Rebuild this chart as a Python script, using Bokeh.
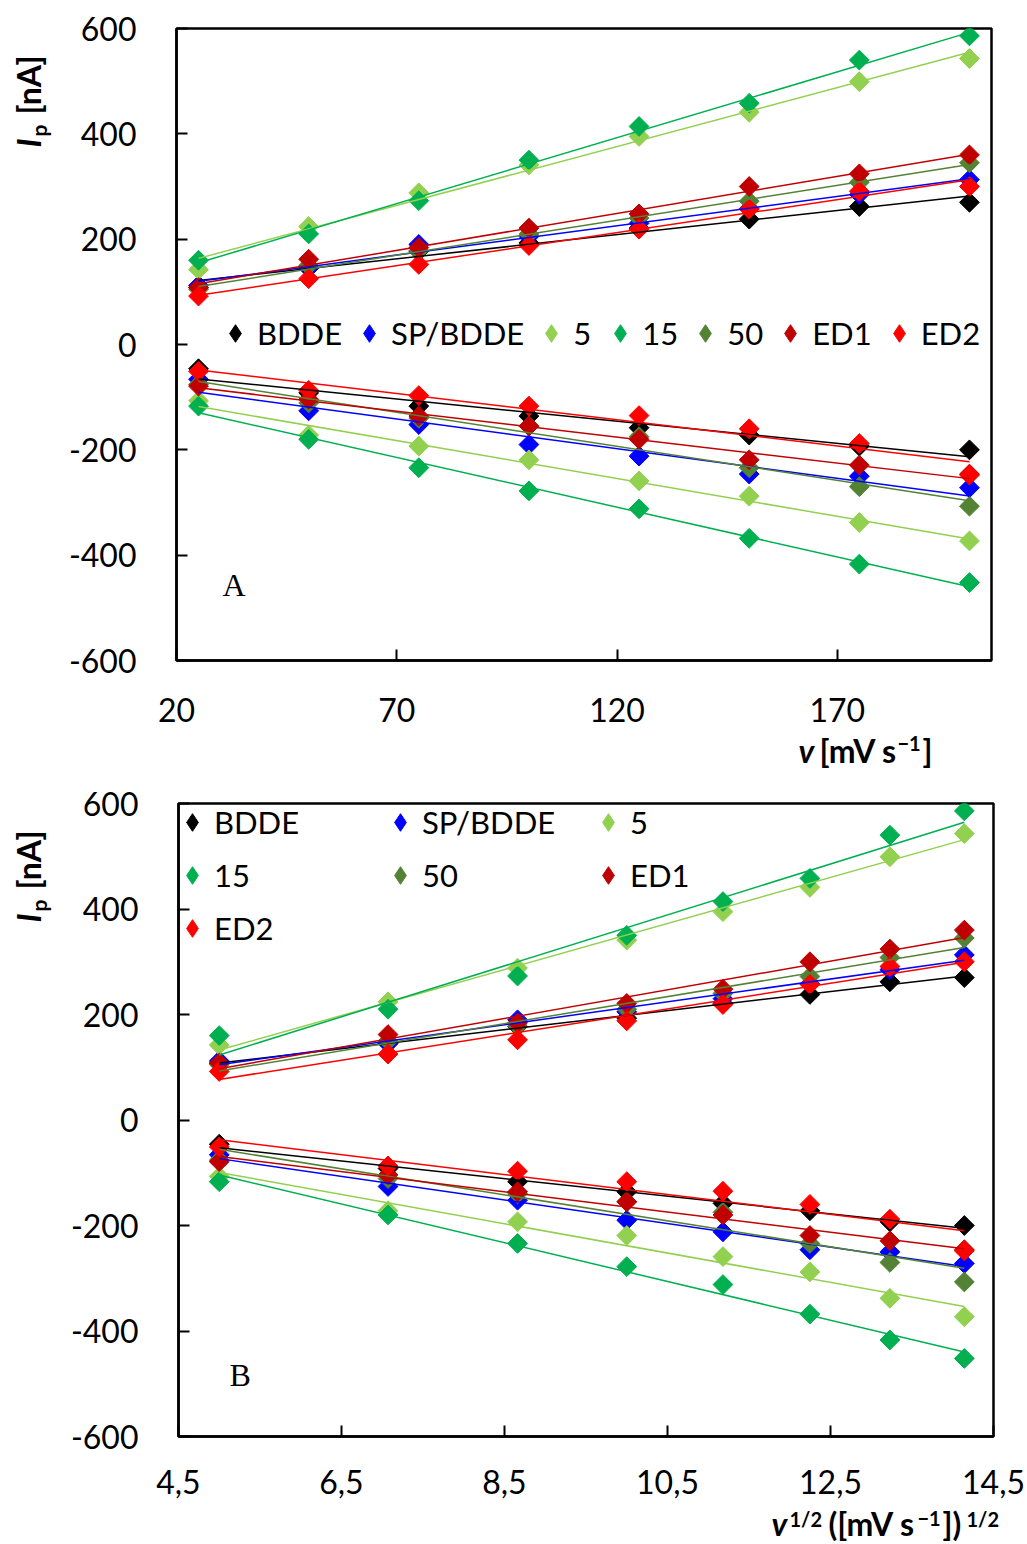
import numpy as np
from bokeh.plotting import figure
from bokeh.models import Label, Legend, LegendItem, FixedTicker, Plot
from bokeh.layouts import column, row
from bokeh.embed import file_html
from bokeh.resources import INLINE

# scan rates v [mV/s]
scan_rate = [25, 50, 75, 100, 125, 150, 175, 200]

series_names = ["BDDE", "SP/BDDE", "5", "15", "50", "ED1", "ED2"]
series_colors = ["#000000", "#0000FF", "#92D050", "#00B050", "#548235", "#C00000", "#FF0000"]

# anodic peak currents Ip [nA]
anodic_bdde = [108, 145, 177, 193, 221, 238, 262, 270]
anodic_sp_bdde = [112, 145, 190, 205, 230, 258, 285, 313]
anodic_5 = [142, 224, 288, 341, 395, 441, 499, 543]
anodic_15 = [160, 210, 273, 350, 414, 458, 540, 586]
anodic_50 = [105, 150, 178, 210, 240, 272, 308, 345]
anodic_ed1 = [108, 162, 184, 221, 248, 300, 324, 360]
anodic_ed2 = [92, 125, 152, 188, 219, 257, 291, 300]

# cathodic peak currents Ip [nA]
cathodic_bdde = [-46, -92, -117, -136, -158, -172, -193, -200]
cathodic_sp_bdde = [-66, -126, -152, -190, -212, -246, -250, -272]
cathodic_5 = [-107, -172, -193, -219, -259, -288, -338, -373]
cathodic_15 = [-117, -180, -234, -278, -312, -368, -417, -452]
cathodic_50 = [-76, -111, -140, -155, -175, -234, -270, -307]
cathodic_ed1 = [-79, -104, -136, -155, -180, -219, -229, -246]
cathodic_ed2 = [-51, -87, -97, -117, -135, -160, -188, -248]

anodic = [anodic_bdde, anodic_sp_bdde, anodic_5, anodic_15, anodic_50, anodic_ed1, anodic_ed2]
cathodic = [cathodic_bdde, cathodic_sp_bdde, cathodic_5, cathodic_15, cathodic_50, cathodic_ed1, cathodic_ed2]

y_ticks = [-600, -400, -200, 0, 200, 400, 600]
y_tick_text = ["-600", "-400", "-200", "0", "200", "400", "600"]

xa_ticks = [20, 70, 120, 170]
xa_tick_text = ["20", "70", "120", "170"]
xb_ticks = [4.5, 6.5, 8.5, 10.5, 12.5, 14.5]
xb_tick_text = ["4,5", "6,5", "8,5", "10,5", "12,5", "14,5"]

FONT = "Lato"
SERIF = "Liberation Serif"
W, H = 1027, 772          # size of one panel
STRIP_W = 60              # strip holding the y axis title
HAS_FRAME_ALIGN = "frame_align" in Plot.properties()


def no_align(p):
    # keep each figure's own frame; do not line frames up across the layout
    if HAS_FRAME_ALIGN:
        p.frame_align = False
    return p


def label(p, text, x, y, size, style="bold", angle=0.0, font=FONT):
    p.add_layout(Label(x=x, y=y, x_units="screen", y_units="screen",
                       text=text, text_font=font, text_font_size=f"{size}px",
                       text_font_style=style, text_color="black", angle=angle,
                       text_align="left", text_baseline="alphabetic"))


def text_strip(width, height, pieces):
    # a bare canvas whose frame is the whole figure; used for axis titles
    s = figure(width=width, height=height, x_range=(0, width), y_range=(0, height),
               min_border=0, x_axis_location=None, y_axis_location=None,
               output_backend="svg", toolbar_location=None)
    s.min_border_left = s.min_border_right = s.min_border_top = s.min_border_bottom = 0
    s.grid.visible = False
    s.outline_line_color = None
    s.border_fill_color = "white"
    for text, x, y, size, style, angle in pieces:
        label(s, text, x, y, size, style, angle)
    return no_align(s)


def make_panel(xs, x_range, x_ticks, x_tick_text, borders, height, standoff,
               letter, letter_pos, legend_kw):
    left, right, top, bottom = borders
    p = figure(width=W - STRIP_W, height=height, x_range=x_range, y_range=(-600, 600),
               min_border_left=left, min_border_right=right,
               min_border_top=top, min_border_bottom=bottom,
               output_backend="svg", toolbar_location=None)
    frame_h = height - top - bottom
    p.grid.visible = False
    p.outline_line_color = "black"
    p.outline_line_width = 2.5
    p.background_fill_color = "white"
    p.border_fill_color = "white"

    for ax in (p.xaxis[0], p.yaxis[0]):
        ax.axis_line_color = "black"
        ax.axis_line_width = 2.5
        ax.major_tick_line_color = "black"
        ax.major_tick_line_width = 2
        ax.major_tick_in = 11
        ax.major_tick_out = 0
        ax.minor_tick_line_color = None
        ax.major_label_text_font = FONT
        ax.major_label_text_font_size = "32px"
        ax.major_label_text_color = "black"
    p.xaxis.ticker = FixedTicker(ticks=x_ticks)
    p.xaxis.major_label_overrides = dict(zip(x_ticks, x_tick_text))
    p.xaxis.major_label_standoff = standoff
    p.yaxis.ticker = FixedTicker(ticks=y_ticks)
    p.yaxis.major_label_overrides = dict(zip(y_ticks, y_tick_text))
    p.yaxis.major_label_standoff = 40

    xs = np.asarray(xs, dtype=float)
    items = []
    for name, color, up, down in zip(series_names, series_colors, anodic, cathodic):
        # diamond keys for the legend, hidden beneath the plotted markers
        key = p.scatter(xs, up, marker="diamond", size=17,
                        fill_color=color, line_color=color)
        items.append(LegendItem(label=name, renderers=[key]))
    for color, up, down in zip(series_colors, anodic, cathodic):
        for ys in (up, down):
            p.scatter(xs, ys, marker="square", angle=np.pi / 4, size=14,
                      fill_color=color, line_color=color)
    # linear trend lines
    xe = np.array([xs.min(), xs.max()])
    for color, up, down in zip(series_colors, anodic, cathodic):
        for ys in (up, down):
            k, q = np.polyfit(xs, ys, 1)
            p.line(xe, k * xe + q, line_color=color, line_width=1.5)

    legend = Legend(items=items, glyph_width=44, glyph_height=44, label_standoff=0,
                    padding=0, margin=0, border_line_alpha=0, background_fill_alpha=0,
                    label_text_font=FONT, label_text_font_size="31px",
                    label_text_color="black", **legend_kw)
    p.add_layout(legend)

    label(p, letter, letter_pos[0], frame_h - letter_pos[1], 32, "normal", font=SERIF)
    return no_align(p)


ROT = np.pi / 2
# y axis titles: I_p [nA]
ylab_a = [("I", 28, 625, 32, "bold italic", ROT),
          ("p", 38, 636, 21, "bold", ROT),
          ("[nA]", 28, 658, 32, "bold", ROT)]
ylab_b = [("I", 28, 622, 32, "bold italic", ROT),
          ("p", 38, 633, 21, "bold", ROT),
          ("[nA]", 28, 655, 32, "bold", ROT)]

# x axis title of panel A: v [mV s^-1]
XA_H = 40
xlab_a = [("v", 738, 22, 32, "bold italic", 0.0),
          ("[mV s", 759, 22, 32, "bold", 0.0),
          ("\u22121", 837, 29, 20, "bold", 0.0),
          ("]", 862, 22, 32, "bold", 0.0)]
# x axis title of panel B: v^1/2 ([mV s^-1])^1/2
XB_H = 39
xlab_b = [("v", 711, 21, 32, "bold italic", 0.0),
          ("1/2", 729, 26, 20, "bold", 0.0),
          ("([mV s", 768, 21, 32, "bold", 0.0),
          ("\u22121", 857, 26, 20, "bold", 0.0),
          ("])", 882, 21, 32, "bold", 0.0),
          ("1/2", 906, 26, 20, "bold", 0.0)]

pa = make_panel(scan_rate, (20, 205), xa_ticks, xa_tick_text,
                (116, 36, 28, H - XA_H - 660), H - XA_H, 37,
                "A", (46, 556),
                dict(orientation="horizontal", spacing=5, location=(37, 305)))

sqrt_rate = np.sqrt(scan_rate)
pb = make_panel(sqrt_rate, (4.5, 14.5), xb_ticks, xb_tick_text,
                (118, 34, 31, H - XB_H - 664), H - XB_H, 33,
                "B", (51, 571),
                dict(orientation="horizontal", ncols=3, spacing=9, label_width=155,
                     location=(-8, 486)))

panel_a = row(text_strip(STRIP_W, H, ylab_a),
              column(pa, text_strip(W - STRIP_W, XA_H, xlab_a), spacing=0), spacing=0)
panel_b = row(text_strip(STRIP_W, H, ylab_b),
              column(pb, text_strip(W - STRIP_W, XB_H, xlab_b), spacing=0), spacing=0)

layout = column(panel_a, panel_b, spacing=0)
open("out.html", "w").write(file_html(layout, INLINE))
